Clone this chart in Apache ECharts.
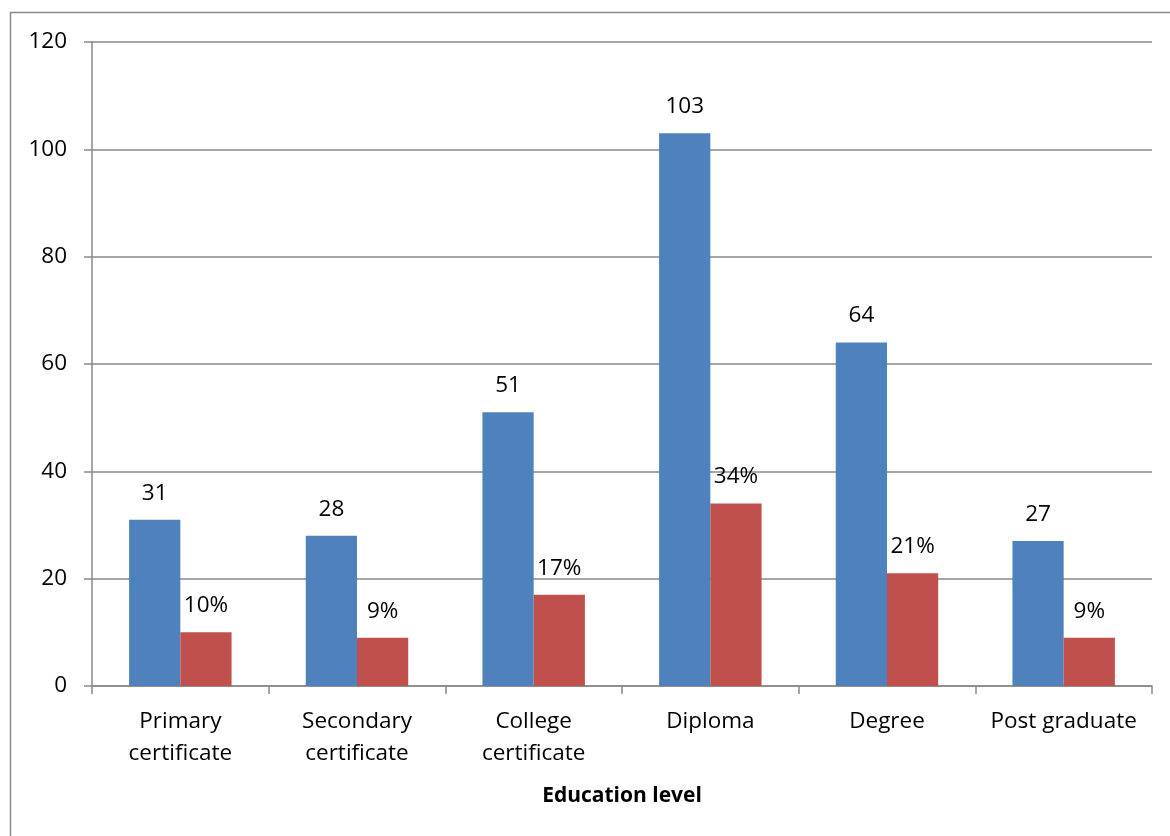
<!DOCTYPE html>
<html>
<head>
<meta charset="utf-8">
<script src="https://cdn.jsdelivr.net/npm/echarts@6/dist/echarts.min.js"></script>
<style>
  html, body { margin: 0; padding: 0; background: #fff; }
  #chart { width: 1170px; height: 836px; }
</style>
</head>
<body>
<div id="chart"></div>
<script>
// Education level categories (two-line labels)
const categories = ['Primary\ncertificate', 'Secondary\ncertificate', 'College\ncertificate', 'Diploma', 'Degree', 'Post graduate'];
// Number of respondents per level
const counts = [31, 28, 51, 103, 64, 27];
// Share of respondents per level (%)
const shares = [10, 9, 17, 34, 21, 9];
// Value axis ticks
const yMin = 0, yMax = 120, yStep = 20;

const FONT = '"Open Sans", "Noto Sans", sans-serif';
const chart = echarts.init(document.getElementById('chart'));

chart.setOption({
  backgroundColor: '#fff',
  animation: false,
  textStyle: { fontFamily: FONT, color: '#000' },
  graphic: [{
    type: 'rect',
    shape: { x: 10.5, y: 12.5, width: 1300, height: 1000 },
    style: { fill: 'none', stroke: '#8a8a8a', lineWidth: 1.5 },
    silent: true
  }],
  grid: { left: 92, right: 18, top: 42, bottom: 150, containLabel: false },
  xAxis: {
    type: 'category',
    data: categories,
    name: 'Education level',
    nameLocation: 'middle',
    nameGap: 100,
    nameTextStyle: { fontFamily: FONT, fontSize: 21, fontWeight: 'bold', color: '#000' },
    axisLine: { lineStyle: { color: '#898989', width: 1.5 } },
    axisTick: { show: true, length: 8, alignWithLabel: false, lineStyle: { color: '#898989', width: 1.5 } },
    axisLabel: { fontFamily: FONT, fontSize: 22.5, color: '#000', margin: 20, lineHeight: 32, interval: 0 }
  },
  yAxis: {
    type: 'value',
    min: yMin, max: yMax, interval: yStep,
    axisLine: { show: true, lineStyle: { color: '#898989', width: 1.5 } },
    axisTick: { show: true, length: 8, lineStyle: { color: '#898989', width: 1.5 } },
    axisLabel: { fontFamily: FONT, fontSize: 22.5, color: '#000', margin: 25 },
    splitLine: { show: true, lineStyle: { color: '#898989', width: 1.5 } }
  },
  series: [
    {
      name: 'Respondents',
      type: 'bar',
      data: counts,
      barGap: '0%',
      barCategoryGap: '42%',
      itemStyle: { color: '#4F81BD' },
      label: { show: true, position: 'top', distance: 15, fontFamily: FONT, fontSize: 22.5, color: '#000' }
    },
    {
      name: 'Percentage',
      type: 'bar',
      data: shares,
      barGap: '0%',
      barCategoryGap: '42%',
      itemStyle: { color: '#C0504D' },
      label: { show: true, position: 'top', distance: 15, fontFamily: FONT, fontSize: 22.5, color: '#000', formatter: '{c}%' }
    }
  ]
});
</script>
</body>
</html>
